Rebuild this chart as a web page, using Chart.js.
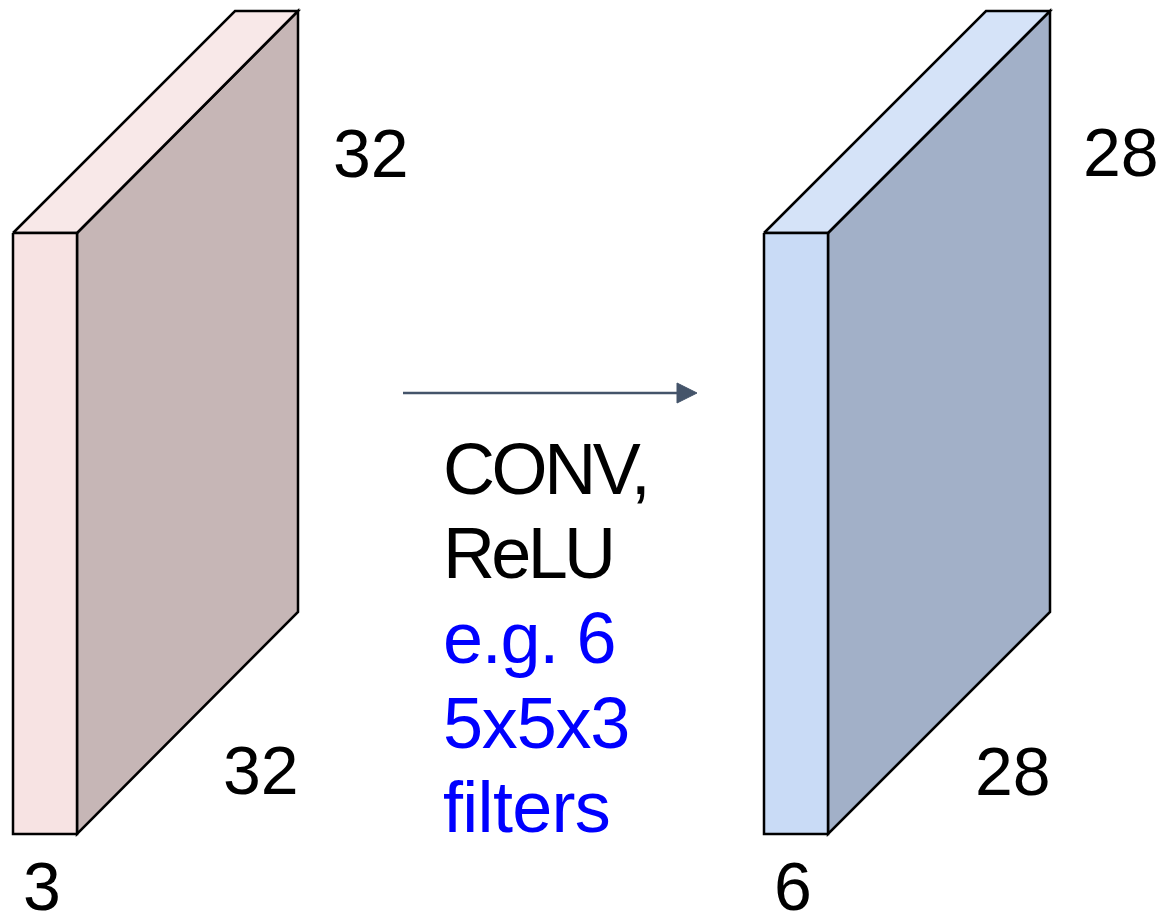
<!DOCTYPE html>
<html>
<head>
<meta charset="utf-8">
<script src="https://cdn.jsdelivr.net/npm/chart.js@4"></script>
<style>
  html, body { margin: 0; padding: 0; background: #ffffff; }
  #wrap { width: 1165px; height: 917px; position: relative; }
</style>
</head>
<body>
<div id="wrap"><canvas id="convChart"></canvas></div>
<script>
// Faces of the input volume (32x32x3), in diagram units
const inputFront = [{x: 13, y: 233}, {x: 77, y: 233}, {x: 77, y: 834}, {x: 13, y: 834}, {x: 13, y: 233}];
const inputTop = [{x: 13, y: 233}, {x: 235, y: 11}, {x: 298, y: 11}, {x: 77, y: 233}, {x: 13, y: 233}];
const inputSide = [{x: 77, y: 233}, {x: 298, y: 11}, {x: 298, y: 612}, {x: 77, y: 834}, {x: 77, y: 233}];

// Faces of the output volume (28x28x6)
const outputFront = [{x: 764, y: 233}, {x: 828, y: 233}, {x: 828, y: 834}, {x: 764, y: 834}, {x: 764, y: 233}];
const outputTop = [{x: 764, y: 233}, {x: 986, y: 11}, {x: 1050, y: 11}, {x: 828, y: 233}, {x: 764, y: 233}];
const outputSide = [{x: 828, y: 233}, {x: 1050, y: 11}, {x: 1050, y: 612}, {x: 828, y: 834}, {x: 828, y: 233}];

// Arrow between the two volumes
const arrowShaft = [{x: 403, y: 393}, {x: 680, y: 393}];
const arrowHead = [{x: 677, y: 383}, {x: 697, y: 393}, {x: 677, y: 403}, {x: 677, y: 383}];

// Dimension labels
const dimLabels = ["32", "32", "3", "28", "28", "6"];
const dimAnchors = [{x: 333, y: 177}, {x: 223, y: 794}, {x: 23, y: 910}, {x: 1083, y: 176}, {x: 975, y: 795}, {x: 774, y: 910}];

// Operation caption
const captionLines = ["CONV,", "ReLU", "e.g. 6", "5x5x3", "filters"];
const captionAnchors = [{x: 443, y: 494}, {x: 443, y: 578}, {x: 443, y: 663}, {x: 443, y: 748}, {x: 443, y: 832}];

// text styling (the reference uses a slightly tighter Helvetica)
const captionColors = ["#000000", "#000000", "#0000ff", "#0000ff", "#0000ff"];
const captionSpacing = ["-3.4px", "-3.7px", "-1.3px", "-1.2px", "-0.7px"];

function face(data, color, width) {
  return {
    data: data,
    showLine: true,
    fill: 'shape',
    backgroundColor: color,
    borderColor: "#000000",
    borderWidth: width,
    borderJoinStyle: 'miter',
    pointRadius: 0,
    tension: 0,
  };
}

const textPlugin = {
  id: 'diagramText',
  afterDatasetsDraw(chart) {
    const ctx = chart.ctx;
    const xs = chart.scales.x;
    const ys = chart.scales.y;
    ctx.save();
    ctx.textAlign = 'left';
    ctx.textBaseline = 'alphabetic';
    ctx.fillStyle = "#000000";
    ctx.font = "68px 'Liberation Sans', Arial, sans-serif";
    dimLabels.forEach((t, i) => {
      ctx.fillText(t, xs.getPixelForValue(dimAnchors[i].x), ys.getPixelForValue(dimAnchors[i].y));
    });
    ctx.font = "72px 'Liberation Sans', Arial, sans-serif";
    captionLines.forEach((t, i) => {
      ctx.fillStyle = captionColors[i];
      ctx.letterSpacing = captionSpacing[i];
      ctx.fillText(t, xs.getPixelForValue(captionAnchors[i].x), ys.getPixelForValue(captionAnchors[i].y));
    });
    ctx.restore();
  }
};

const ctx = document.getElementById("convChart").getContext("2d");

new Chart(ctx, {
  type: "scatter",
  data: {
    datasets: [
      face(inputFront, "#f7e3e3", 2.5),
      face(inputTop, "#f8e8e8", 2.5),
      face(inputSide, "#c6b6b6", 2.5),
      face(outputFront, "#c9dbf6", 2.5),
      face(outputTop, "#d5e3f8", 2.5),
      face(outputSide, "#a2b0c8", 2.5),
      {
        data: arrowShaft,
        showLine: true,
        fill: false,
        borderColor: "#44546a",
        borderWidth: 2.5,
        pointRadius: 0,
      },
      {
        data: arrowHead,
        showLine: true,
        fill: 'shape',
        backgroundColor: "#44546a",
        borderColor: "#44546a",
        borderWidth: 1,
        pointRadius: 0,
      },
    ],
  },
  options: {
    responsive: true,
    maintainAspectRatio: false,
    animation: false,
    layout: { padding: 0 },
    plugins: {
      legend: { display: false },
      tooltip: { enabled: false },
    },
    scales: {
      x: { type: 'linear', min: 0, max: 1165, display: false },
      y: { type: 'linear', min: 0, max: 917, reverse: true, display: false },
    },
  },
  plugins: [textPlugin],
});
</script>
</body>
</html>
